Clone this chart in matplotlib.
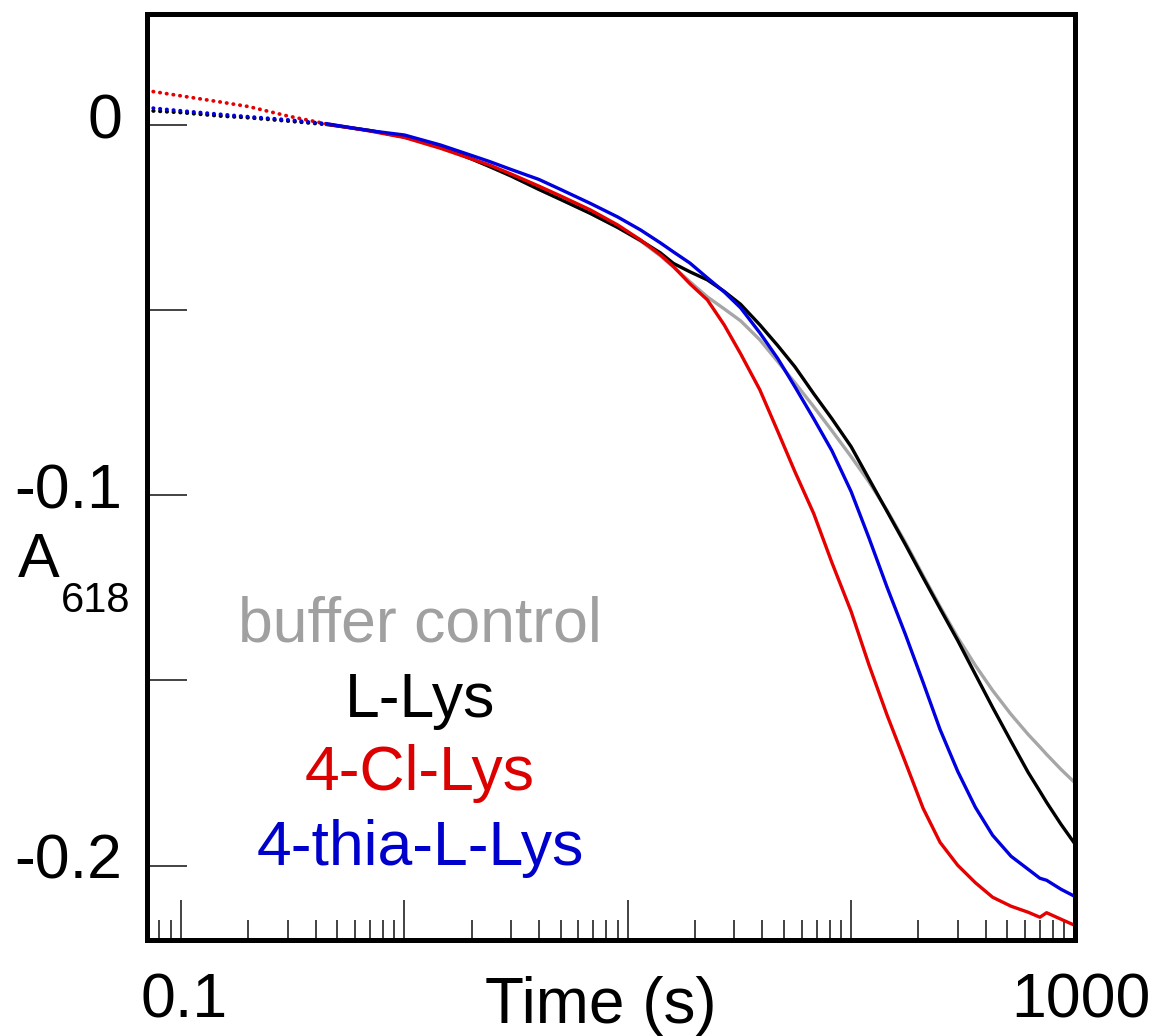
import numpy as np
import matplotlib.pyplot as plt
from matplotlib.ticker import LogLocator, NullFormatter, FixedLocator

plt.rcParams['font.family'] = ['Liberation Sans', 'DejaVu Sans']

t = [0.07, 0.1, 0.15, 0.2, 0.3, 0.45, 0.7, 1, 1.45, 2, 2.4, 3, 4, 5, 6.8, 9, 11.4, 14, 16,
     19, 22.7, 27, 32, 39, 47, 56, 68, 82, 100, 120, 145, 175, 210, 250, 300, 360, 430,
     520, 620, 700, 750, 870, 1000]

a_buf = [0.00405, 0.00351, 0.00257, 0.00211, 0.00122, 0.00027, -0.00135, -0.00311,
         -0.00572, -0.00905, -0.01107, -0.01364, -0.01728, -0.01998, -0.02376, -0.02754,
         -0.03119, -0.03524, -0.03821, -0.04226, -0.04631, -0.04955, -0.05279, -0.05792,
         -0.06386, -0.06953, -0.07601, -0.08249, -0.08951, -0.09626, -0.10409, -0.11273,
         -0.12164, -0.13001, -0.13838, -0.14594, -0.15269, -0.15917, -0.16457, -0.16797,
         -0.16997, -0.17402, -0.17753]

a_lys = [0.00405, 0.00351, 0.00257, 0.00211, 0.00122, 0.00027, -0.00135, -0.00311,
         -0.00572, -0.00905, -0.01107, -0.01364, -0.01728, -0.01998, -0.02376, -0.02754,
         -0.03105, -0.03443, -0.03726, -0.03956, -0.04172, -0.04482, -0.04833, -0.05387,
         -0.05954, -0.06521, -0.07250, -0.07925, -0.08681, -0.09545, -0.10436, -0.11327,
         -0.12218, -0.13055, -0.13919, -0.14837, -0.15728, -0.16646, -0.17483, -0.17996,
         -0.18293, -0.18887, -0.19400]

a_cl = [0.00945, 0.00800, 0.00635, 0.00513, 0.00257, 0.00041, -0.00149, -0.00324,
        -0.00616, -0.00905, -0.01067, -0.01310, -0.01639, -0.01904, -0.02282, -0.02687,
        -0.03092, -0.03497, -0.03812, -0.04280, -0.04712, -0.05387, -0.06170, -0.07142,
        -0.08276, -0.09356, -0.10490, -0.11813, -0.13136, -0.14567, -0.15944, -0.17213,
        -0.18455, -0.19373, -0.19994, -0.20466, -0.20858, -0.21101, -0.21263, -0.21398,
        -0.21276, -0.21452, -0.21614]

a_thia = [0.00486, 0.00397, 0.00302, 0.00238, 0.00154, 0.00046, -0.00140, -0.00257,
          -0.00527, -0.00810, -0.00972, -0.01188, -0.01458, -0.01728, -0.02106, -0.02471,
          -0.02822, -0.03173, -0.03416, -0.03721, -0.04118, -0.04496, -0.04928, -0.05603,
          -0.06305, -0.07061, -0.07925, -0.08789, -0.09896, -0.11138, -0.12488, -0.13757,
          -0.15053, -0.16322, -0.17456, -0.18428, -0.19184, -0.19751, -0.20102, -0.20345,
          -0.20399, -0.20642, -0.20831]

labels = ['buffer control', 'L-Lys', '4-Cl-Lys', '4-thia-L-Lys']
line_cols = ['#a6a6a6', '#000000', '#e60000', '#0000e0']
text_cols = ['#a0a0a0', '#000000', '#dd0000', '#0000cc']

ytick_vals = [0, -0.1, -0.2]
ytick_text = ['0', '-0.1', '-0.2']

fig = plt.figure(figsize=(11.55, 10.36), dpi=100)
ax = fig.add_axes([146.5/1155, 1-939.5/1036, 928/1155, 925/1036])

n_dot = 6  # the early samples (t <= 0.45 s) show up as separate dots
for a, c in zip([a_buf, a_lys, a_cl, a_thia], line_cols):
    ax.plot(t[:n_dot], a[:n_dot], color=c, lw=2.7, linestyle=(0, (0.1, 1.7)),
            dash_capstyle='round')
    ax.plot(t[n_dot-1:], a[n_dot-1:], color=c, lw=2.4, solid_joinstyle='round')

ax.set_xscale('log')
ax.set_xlim(0.07, 1000)
ax.set_ylim(-0.22, 0.03)

ax.xaxis.set_major_locator(LogLocator(base=10, numticks=10))
ax.xaxis.set_minor_locator(LogLocator(base=10, subs=np.arange(2, 10), numticks=20))
ax.xaxis.set_minor_formatter(NullFormatter())
ax.yaxis.set_major_locator(FixedLocator([-0.2, -0.15, -0.1, -0.05, 0]))
ax.tick_params(axis='both', which='major', direction='in', length=29, width=1.2,
               color='#222222', labelbottom=False, labelleft=False)
ax.tick_params(axis='x', which='minor', direction='in', length=14.5, width=1.2,
               color='#222222')
ax.tick_params(axis='y', which='minor', left=False)
for sp in ax.spines.values():
    sp.set_linewidth(3.6)

for v, s in zip(ytick_vals, ytick_text):
    ax.annotate(s, xy=(0, v), xycoords=('axes fraction', 'data'), xytext=(-24, -13),
                textcoords='offset pixels', ha='right', va='baseline', fontsize=45)

ax.annotate('0.1', xy=(0.1, 0), xycoords=('data', 'axes fraction'), xytext=(3, -78.5),
            textcoords='offset pixels', ha='center', va='baseline', fontsize=45)
ax.annotate('1000', xy=(1000, 0), xycoords=('data', 'axes fraction'), xytext=(6, -77.5),
            textcoords='offset pixels', ha='center', va='baseline', fontsize=45)
ax.text(0.4892, -0.0903, 'Time (s)', transform=ax.transAxes, ha='center',
        va='baseline', fontsize=46)

fig.text(18/1155, 1-577/1036, 'A', fontsize=45, ha='left', va='baseline')
fig.text(61/1155, 1-612/1036, '618', fontsize=30, ha='left', va='baseline')

leg_y = [0.3219, 0.2409, 0.1616, 0.0805]
for s, c, y in zip(labels, text_cols, leg_y):
    ax.text(0.2947, y, s, transform=ax.transAxes, ha='center', va='baseline',
            fontsize=45, color=c)

fig.savefig('out.png', dpi=100)
